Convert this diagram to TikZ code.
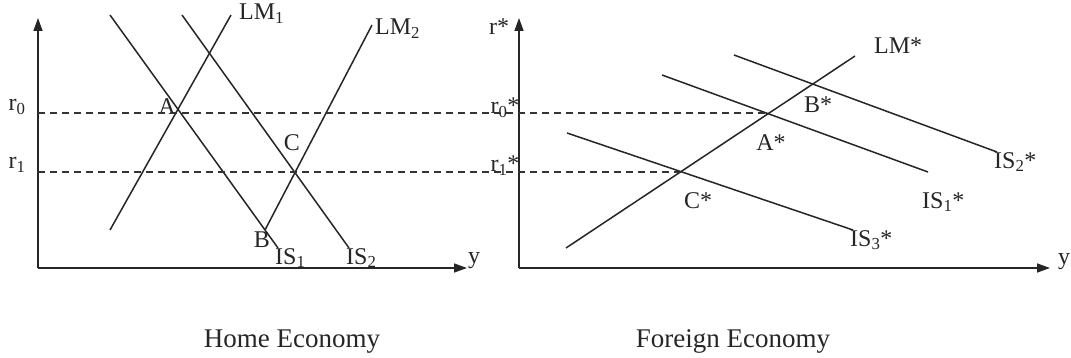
\documentclass[tikz,border=0pt]{standalone}
\usepackage{fontspec}
\setmainfont{Liberation Serif}
\usetikzlibrary{arrows.meta}
\begin{document}
\begin{tikzpicture}[x=1pt,y=-1pt,
  curve/.style={line width=1.5pt,draw=black!85},
  axis/.style={line width=1.5pt,draw=black!85,-{Triangle[length=13pt,width=9pt]}},
  guide/.style={line width=1.3pt,draw=black!80,dash pattern=on 7pt off 5pt},
  lbl/.style={font=\fontsize{24}{27}\selectfont,inner sep=0pt,text=black!85},
  captext/.style={font=\fontsize{27}{30}\selectfont,inner sep=0pt,text=black!85}]
\useasboundingbox[fill=white] (0,0) rectangle (1071,358);
% ---------- Home economy ----------
\coordinate (O1) at (38,268);
\coordinate (Y1) at (38,18);
\coordinate (X1) at (467,268);
\draw[axis] (O1) -- (Y1);
\draw[axis] (O1) -- (X1);
\node[lbl] (y1) at (474,261) {y};
\node[lbl] (r0) at (17,107) {r\textsubscript{0}};
\node[lbl] (r1) at (17,165) {r\textsubscript{1}};
\coordinate (r0s) at (38,113);
\coordinate (r1s) at (38,172);
% IS curves
\coordinate (is1a) at (110,15);
\coordinate (is1b) at (278,248);
\coordinate (is2a) at (182,15);
\coordinate (is2b) at (349,248);
\draw[curve] (is1a) -- (is1b);
\draw[curve] (is2a) -- (is2b);
\node[lbl,anchor=north west] (IS1) at (275,248) {IS\textsubscript{1}};
\node[lbl,anchor=north west] (IS2) at (346,248) {IS\textsubscript{2}};
% LM curves
\coordinate (lm1a) at (110,230);
\coordinate (lm1b) at (231,15);
\coordinate (lm2a) at (265,230);
\coordinate (lm2b) at (372,25);
\draw[curve] (lm1a) -- (lm1b);
\draw[curve] (lm2a) -- (lm2b);
\node[lbl,anchor=west] (LM1) at (239,14) {LM\textsubscript{1}};
\node[lbl,anchor=west] (LM2) at (375,29) {LM\textsubscript{2}};
\node[lbl] (A) at (167,107) {A};
\node[lbl] (B) at (262,240) {B};
\node[lbl] (C) at (292,143) {C};
\node[captext,anchor=base] (home) at (292,347) {Home Economy};
% ---------- Foreign economy ----------
\coordinate (O2) at (519,268);
\coordinate (Y2) at (519,18);
\coordinate (X2) at (1050,268);
\draw[axis] (O2) -- (Y2);
\draw[axis] (O2) -- (X2);
\node[lbl] (y2) at (1064,262) {y};
\node[lbl] (rs) at (499,27) {r*};
\node[lbl] (r0s2) at (505,108) {r\textsubscript{0}*};
\node[lbl] (r1s2) at (505,166) {r\textsubscript{1}*};
\coordinate (lmsa) at (566,248);
\coordinate (lmsb) at (855,56);
\draw[curve] (lmsa) -- (lmsb);
\node[lbl,anchor=west] (LMs) at (874,46) {LM*};
\coordinate (is1sa) at (662,75);
\coordinate (is1sb) at (928,172);
\coordinate (is2sa) at (734,55);
\coordinate (is2sb) at (997,152);
\coordinate (is3sa) at (567,133);
\coordinate (is3sb) at (853,230);
\draw[curve] (is1sa) -- (is1sb);
\draw[curve] (is2sa) -- (is2sb);
\draw[curve] (is3sa) -- (is3sb);
\node[lbl,anchor=west] (IS1s) at (922,202) {IS\textsubscript{1}*};
\node[lbl,anchor=north west] (IS2s) at (994,152) {IS\textsubscript{2}*};
\node[lbl,anchor=north west] (IS3s) at (850,230) {IS\textsubscript{3}*};
\coordinate (As) at (768,113);
\coordinate (Cs) at (681,172);
\node[lbl] (Bl) at (818,105) {B*};
\node[lbl] (Al) at (771,143) {A*};
\node[lbl] (Cl) at (698,201) {C*};
\node[captext,anchor=base] (foreign) at (733,347) {Foreign Economy};
% dashed guides
\draw[guide] (r0s) -- (As);
\draw[guide] (r1s) -- (Cs);
\end{tikzpicture}
\end{document}
